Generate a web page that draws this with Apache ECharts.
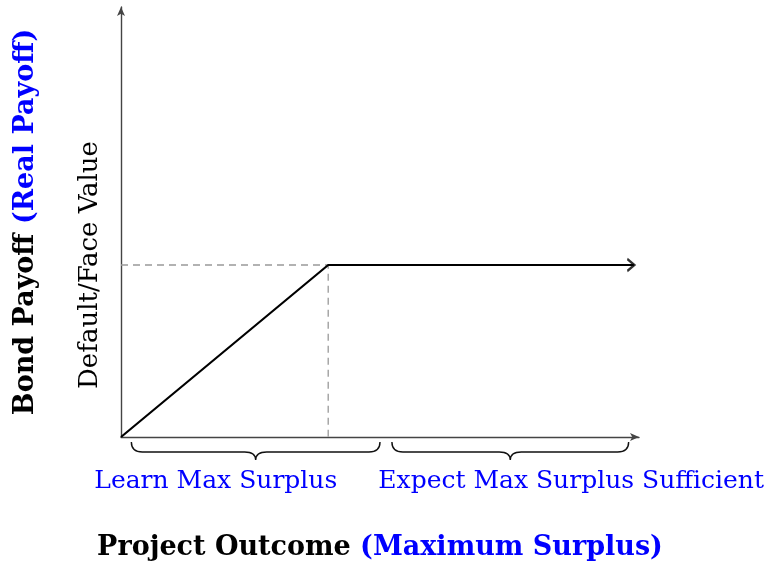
<!DOCTYPE html>
<html>
<head>
<meta charset="utf-8">
<script src="https://cdn.jsdelivr.net/npm/echarts@6/dist/echarts.min.js"></script>
<style>
  html, body { margin: 0; padding: 0; background: #fff; }
  #main { width: 765px; height: 568px; }
</style>
</head>
<body>
<div id="main"></div>
<script>
// payoff curve: rises to face value, then flat
var payoffX = [0, 4, 9.9];
var payoffY = [0, 4, 4];
// dashed guides to the kink
var guideX = [0, 4, 4];
var guideY = [4, 4, 0];
// braces under the x axis
var braceFrom = [0.2, 5.23];
var braceTo = [5.0, 9.8];
var regionPos = [1.83, 8.69];
var regionNames = ['Learn Max Surplus', 'Expect Max Surplus Sufficient'];
var yTickPos = [4];
var yTickNames = ['Default/Face Value'];

var serif = 'DejaVu Serif';
var blue = '#0000ff';

function zip(a, b) {
    var out = [];
    for (var i = 0; i < a.length; i++) out.push([a[i], b[i]]);
    return out;
}

var myChart = echarts.init(document.getElementById('main'));
var option = {
    animation: false,
    textStyle: { fontFamily: serif },
    grid: { left: 121, right: 126, top: 7, bottom: 131, outerBoundsMode: 'none', containLabel: false },
    xAxis: {
        type: 'value', min: 0, max: 10,
        splitLine: { show: false },
        axisTick: { show: false },
        axisLine: { lineStyle: { color: '#444', width: 1.4 }, symbol: ['none', 'arrow'], symbolSize: [6, 9] },
        axisLabel: {
            customValues: regionPos,
            margin: 32,
            color: blue,
            fontSize: 25,
            fontFamily: serif,
            formatter: function (v) {
                var i = regionPos.indexOf(v);
                return i >= 0 ? regionNames[i] : '';
            }
        },
        name: '{b|Project Outcome }{bl|(Maximum Surplus)}',
        nameLocation: 'middle',
        nameGap: 97,
        nameTextStyle: {
            rich: {
                b: { fontSize: 27, fontWeight: 'bold', color: '#000', fontFamily: serif },
                bl: { fontSize: 27, fontWeight: 'bold', color: blue, fontFamily: serif }
            }
        }
    },
    yAxis: {
        type: 'value', min: 0, max: 10,
        splitLine: { show: false },
        axisTick: { show: false },
        axisLine: { lineStyle: { color: '#444', width: 1.4 }, symbol: ['none', 'arrow'], symbolSize: [6, 9] },
        axisLabel: {
            customValues: yTickPos,
            rotate: 90,
            margin: 18,
            color: '#000',
            fontSize: 26,
            fontFamily: serif,
            formatter: function (v) {
                var i = yTickPos.indexOf(v);
                return i >= 0 ? yTickNames[i] : '';
            }
        },
        name: '{b|Bond Payoff }{bl|(Real Payoff)}',
        nameLocation: 'middle',
        nameRotate: 90,
        nameGap: 82,
        nameTextStyle: {
            rich: {
                b: { fontSize: 27, fontWeight: 'bold', color: '#000', fontFamily: serif },
                bl: { fontSize: 27, fontWeight: 'bold', color: blue, fontFamily: serif }
            }
        }
    },
    series: [
        {
            type: 'line',
            data: zip(guideX, guideY),
            symbol: 'none',
            lineStyle: { color: '#999', width: 1.3, type: [7, 5] },
            z: 1
        },
        {
            type: 'line',
            data: zip(payoffX, payoffY),
            symbol: 'none',
            lineStyle: { color: '#000', width: 2.2 },
            z: 3
        },
        {
            type: 'scatter',
            data: [[payoffX[payoffX.length - 1], payoffY[payoffY.length - 1]]],
            symbol: 'path://M0,0 L8,7 L0,14',
            symbolSize: [7, 12],
            symbolOffset: [-3, 0],
            itemStyle: { color: 'none', borderColor: '#000', borderWidth: 2.2 },
            z: 4
        },
        {
            type: 'custom',
            data: zip(braceFrom, braceTo),
            clip: false,
            renderItem: function (params, api) {
                var p1 = api.coord([api.value(0), 0]);
                var p2 = api.coord([api.value(1), 0]);
                var x1 = p1[0], x2 = p2[0], xm = (x1 + x2) / 2;
                var y0 = p1[1] + 5, yf = p1[1] + 15, yt = p1[1] + 23;
                var r = 11;
                var d = 'M' + x1 + ',' + y0 +
                    ' Q' + x1 + ',' + yf + ' ' + (x1 + r) + ',' + yf +
                    ' L' + (xm - r) + ',' + yf +
                    ' Q' + xm + ',' + yf + ' ' + xm + ',' + yt +
                    ' Q' + xm + ',' + yf + ' ' + (xm + r) + ',' + yf +
                    ' L' + (x2 - r) + ',' + yf +
                    ' Q' + x2 + ',' + yf + ' ' + x2 + ',' + y0;
                return {
                    type: 'path',
                    shape: { pathData: d },
                    style: { fill: 'none', stroke: '#111', lineWidth: 1.4 }
                };
            }
        }
    ]
};
myChart.setOption(option);
</script>
</body>
</html>
